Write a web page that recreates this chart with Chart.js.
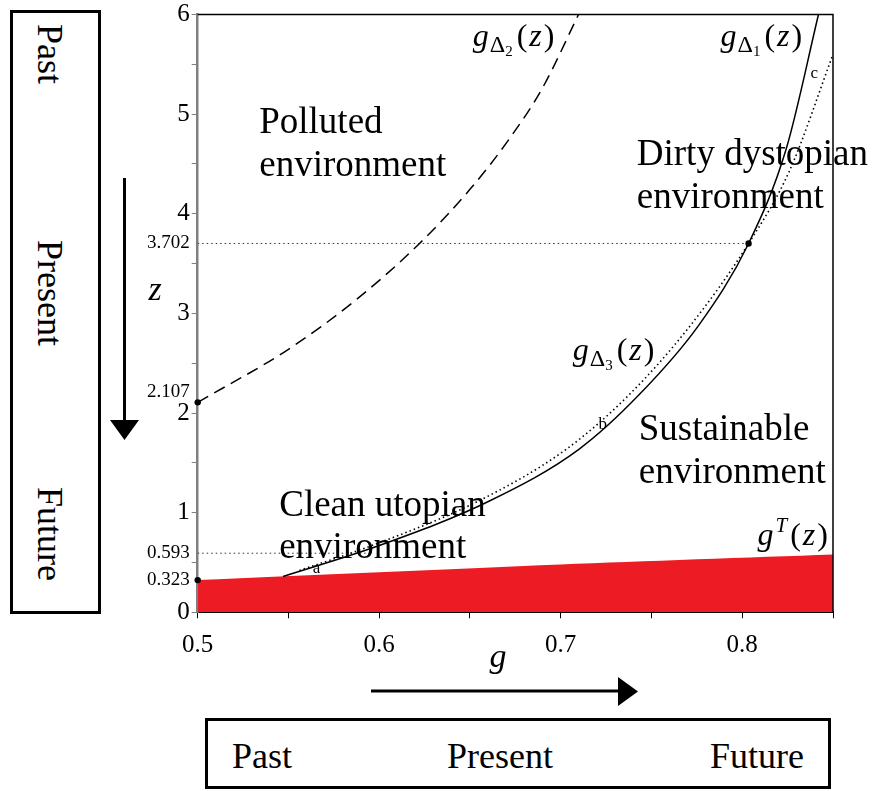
<!DOCTYPE html>
<html>
<head>
<meta charset="utf-8">
<script src="https://cdn.jsdelivr.net/npm/chart.js@4.4.1/dist/chart.umd.min.js"></script>
<style>
    html, body { margin: 0; padding: 0; background: #fff; }
    #contenedor { position: relative; width: 874px; height: 791px; overflow: hidden; font-family: "Liberation Serif", "Times New Roman", serif; }
    #grafico { position: absolute; left: 0; top: 0; }
    .caja { position: absolute; border: 3px solid #000; box-sizing: border-box; }
    .vertical { position: absolute; writing-mode: vertical-rl; font-size: 36px; line-height: 36px; }
    .horizontal { position: absolute; font-size: 36px; line-height: 36px; }
</style>
</head>
<body>
<div id="contenedor">
    <div class="caja" style="left:10px; top:10px; width:91px; height:604px;"></div>
    <span class="vertical" style="left:32px; top:24px;">Past</span>
    <span class="vertical" style="left:32px; top:240px;">Present</span>
    <span class="vertical" style="left:32px; top:487px;">Future</span>

    <div class="caja" style="left:205px; top:718px; width:626px; height:71px;"></div>
    <span class="horizontal" style="left:232px; top:738px;">Past</span>
    <span class="horizontal" style="left:447px; top:738px;">Present</span>
    <span class="horizontal" style="left:710px; top:738px;">Future</span>

    <canvas id="grafico" width="874" height="791"></canvas>
</div>

<script>
// Curva g_Δ1(z) (línea continua)
const gDelta1 = [0.547, 0.600, 0.661, 0.710, 0.743, 0.776, 0.8035, 0.8242, 0.842];
const zDelta1 = [0.36, 0.67, 1.12, 1.636, 2.18, 2.88, 3.702, 4.65, 6.0];

// Curva g_Δ2(z) (discontinua)
const gDelta2 = [0.5, 0.55, 0.5875, 0.6222, 0.65, 0.672, 0.69, 0.7098];
const zDelta2 = [2.107, 2.64, 3.14, 3.702, 4.245, 4.76, 5.264, 6.0];

// Curva g_Δ3(z) (punteada)
const gDelta3 = [0.556, 0.596, 0.655, 0.703, 0.7375, 0.7715, 0.8035, 0.826, 0.85];
const zDelta3 = [0.42, 0.67, 1.12, 1.636, 2.18, 2.88, 3.702, 4.43, 5.60];

// Frontera g^T(z) (zona roja)
const gFrontera = [0.5, 0.7, 0.85];
const zFrontera = [0.323, 0.48, 0.58];

// Puntos marcados y líneas guía
const gPuntos = [0.5, 0.5, 0.8035];
const zPuntos = [2.107, 0.323, 3.702];
const gGuia1 = [0.5, 0.8035];
const zGuia1 = [3.702, 3.702];
const gGuia2 = [0.5, 0.596];
const zGuia2 = [0.593, 0.593];

// Ejes
const ticksZ = [0, 0.5, 1, 1.5, 2, 2.5, 3, 3.5, 4, 4.5, 5, 5.5, 6];
const ticksZEspeciales = [0.323, 0.593, 2.107, 3.702];
const ticksG = [0.5, 0.6, 0.7, 0.8];

const fuente = 'Liberation Serif, Times New Roman, serif';

Chart.defaults.font.family = fuente;
Chart.defaults.font.size = 25;
Chart.defaults.color = '#000';

function puntos(gs, zs) {
    return gs.map((g, i) => ({ x: g, y: zs[i] }));
}

function esEspecial(v) {
    return ticksZEspeciales.some(e => Math.abs(e - v) < 1e-9);
}

// Etiquetas con notación matemática: g, subíndice Δn o superíndice T, luego (z)
function dibujarG(ctx, x, y, sub, sup) {
    let cx = x;
    ctx.textAlign = 'left';
    ctx.textBaseline = 'alphabetic';
    ctx.font = 'italic 32px ' + fuente;
    ctx.fillText('g', cx, y);
    cx += ctx.measureText('g').width + 1;
    if (sub) {
        ctx.font = '24px ' + fuente;
        ctx.fillText('Δ', cx, y + 6);
        cx += ctx.measureText('Δ').width;
        ctx.font = '15px ' + fuente;
        ctx.fillText(sub, cx, y + 10);
        cx += ctx.measureText(sub).width + 4;
    }
    if (sup) {
        ctx.font = 'italic 21px ' + fuente;
        ctx.fillText(sup, cx + 1, y - 13);
        cx += ctx.measureText(sup).width + 4;
    }
    ctx.font = '32px ' + fuente;
    ctx.fillText('(', cx, y);
    cx += ctx.measureText('(').width + 2;
    ctx.font = 'italic 32px ' + fuente;
    ctx.fillText('z', cx, y);
    cx += ctx.measureText('z').width + 2;
    ctx.font = '32px ' + fuente;
    ctx.fillText(')', cx, y);
}

// Textos de regiones (posición en coordenadas g, z: esquina izquierda de la línea base)
const textosRegion = [
    { g: 0.5339, z: 4.807, lineas: ['Polluted', 'environment'] },
    { g: 0.7419, z: 4.487, lineas: ['Dirty dystopian', 'environment'] },
    { g: 0.7430, z: 1.727, lineas: ['Sustainable', 'environment'] },
    { g: 0.5449, z: 0.971, lineas: ['Clean utopian', 'environment'] }
];

const etiquetasCurva = [
    { g: 0.6515, z: 5.685, sub: '2' },
    { g: 0.7880, z: 5.685, sub: '1' },
    { g: 0.7066, z: 2.535, sub: '3' },
    { g: 0.8084, z: 0.672, sup: 'T' }
];

const letras = [
    { g: 0.5655, z: 0.439, t: 'a' },
    { g: 0.7232, z: 1.886, t: 'b' },
    { g: 0.8397, z: 5.412, t: 'c' }
];

const anotaciones = {
    id: 'anotaciones',
    afterDraw(chart) {
        const ctx = chart.ctx;
        const sx = chart.scales.x;
        const sy = chart.scales.y;
        const area = chart.chartArea;
        ctx.save();

        // marco superior y derecho
        ctx.strokeStyle = '#000';
        ctx.lineWidth = 1.5;
        ctx.beginPath();
        ctx.moveTo(area.left, area.top);
        ctx.lineTo(area.right, area.top);
        ctx.lineTo(area.right, area.bottom);
        ctx.stroke();

        ctx.fillStyle = '#000';
        ctx.textAlign = 'left';
        ctx.textBaseline = 'alphabetic';
        ctx.font = '37px ' + fuente;
        textosRegion.forEach(t => {
            const px = sx.getPixelForValue(t.g);
            const py = sy.getPixelForValue(t.z);
            t.lineas.forEach((l, i) => ctx.fillText(l, px, py + i * 42.5));
        });

        etiquetasCurva.forEach(e => {
            dibujarG(ctx, sx.getPixelForValue(e.g), sy.getPixelForValue(e.z), e.sub, e.sup);
        });

        ctx.font = '17px ' + fuente;
        ctx.textAlign = 'center';
        ctx.textBaseline = 'middle';
        letras.forEach(l => {
            ctx.fillText(l.t, sx.getPixelForValue(l.g), sy.getPixelForValue(l.z));
        });

        // títulos de ejes
        ctx.font = 'italic 34px ' + fuente;
        ctx.textAlign = 'center';
        ctx.textBaseline = 'alphabetic';
        ctx.fillText('z', 155, 300);
        ctx.fillText('g', 498, 667);

        // flechas
        ctx.lineWidth = 3;
        ctx.beginPath();
        ctx.moveTo(124.5, 178);
        ctx.lineTo(124.5, 424);
        ctx.moveTo(371, 691);
        ctx.lineTo(620, 691);
        ctx.stroke();
        ctx.beginPath();
        ctx.moveTo(110, 420);
        ctx.lineTo(139, 420);
        ctx.lineTo(124.5, 440);
        ctx.closePath();
        ctx.moveTo(618, 677);
        ctx.lineTo(618, 706);
        ctx.lineTo(638, 691.5);
        ctx.closePath();
        ctx.fill();

        ctx.restore();
    }
};

const datasets = [
    {
        label: 'puntos',
        data: puntos(gPuntos, zPuntos),
        showLine: false,
        pointRadius: 3.2,
        pointBackgroundColor: '#000',
        pointBorderWidth: 0,
        clip: false
    },
    {
        label: 'g_Δ1',
        data: puntos(gDelta1, zDelta1),
        showLine: true,
        borderColor: '#000',
        borderWidth: 1.5,
        pointRadius: 0,
        cubicInterpolationMode: 'monotone'
    },
    {
        label: 'g_Δ3',
        data: puntos(gDelta3, zDelta3),
        showLine: true,
        borderColor: '#000',
        borderWidth: 1.6,
        borderDash: [1.5, 3],
        pointRadius: 0,
        cubicInterpolationMode: 'monotone'
    },
    {
        label: 'g_Δ2',
        data: puntos(gDelta2, zDelta2),
        showLine: true,
        borderColor: '#000',
        borderWidth: 1.5,
        borderDash: [12, 7],
        pointRadius: 0,
        cubicInterpolationMode: 'monotone'
    },
    {
        label: 'guia1',
        data: puntos(gGuia1, zGuia1),
        showLine: true,
        borderColor: '#333',
        borderWidth: 1,
        borderDash: [1.5, 3],
        pointRadius: 0
    },
    {
        label: 'guia2',
        data: puntos(gGuia2, zGuia2),
        showLine: true,
        borderColor: '#333',
        borderWidth: 1,
        borderDash: [1.5, 3],
        pointRadius: 0
    },
    {
        label: 'g^T',
        data: puntos(gFrontera, zFrontera),
        showLine: true,
        borderWidth: 0,
        borderColor: 'rgba(0,0,0,0)',
        backgroundColor: '#ed1c24',
        fill: 'origin',
        pointRadius: 0,
        tension: 0.3
    }
];

const ctxGrafico = document.getElementById('grafico').getContext('2d');
new Chart(ctxGrafico, {
    type: 'scatter',
    data: { datasets: datasets },
    options: {
        responsive: false,
        animation: false,
        events: [],
        layout: { padding: { left: 0, right: 41, top: 12.7, bottom: 0 } },
        plugins: {
            legend: { display: false },
            tooltip: { enabled: false }
        },
        scales: {
            x: {
                type: 'linear',
                min: 0.5,
                max: 0.85,
                z: 1,
                afterFit: s => { s.height = 178.7; },
                border: { color: '#000', width: 2 },
                grid: { drawOnChartArea: false, drawTicks: true, tickLength: 6, color: '#000', lineWidth: 1 },
                ticks: {
                    stepSize: 0.05,
                    autoSkip: false,
                    maxRotation: 0,
                    padding: 12,
                    color: '#000',
                    font: { family: fuente, size: 25 },
                    callback: v => ticksG.some(t => Math.abs(t - v) < 1e-9) ? v.toFixed(1) : ''
                }
            },
            y: {
                type: 'linear',
                min: 0,
                max: 6,
                z: 1,
                afterFit: s => { s.width = 197.7; },
                afterBuildTicks: s => {
                    s.ticks = ticksZ.concat(ticksZEspeciales).sort((a, b) => a - b).map(v => ({ value: v }));
                },
                border: { color: '#808080', width: 2.5 },
                grid: {
                    drawOnChartArea: false,
                    drawTicks: true,
                    tickLength: 6,
                    lineWidth: 1,
                    color: c => (c.tick && esEspecial(c.tick.value)) ? 'rgba(0,0,0,0)' : '#808080'
                },
                ticks: {
                    autoSkip: false,
                    padding: 2,
                    color: '#000',
                    font: c => (c.tick && esEspecial(c.tick.value))
                        ? { family: fuente, size: 19, lineHeight: 1.1 }
                        : { family: fuente, size: 25, lineHeight: 1.0 },
                    callback: v => {
                        if (esEspecial(v)) return Math.abs(v - 2.107) < 1e-9 ? ['2.107', ''] : v.toFixed(3);
                        if (Number.isInteger(v)) return String(v);
                        return '';
                    }
                }
            }
        }
    },
    plugins: [anotaciones]
});
</script>
</body>
</html>
